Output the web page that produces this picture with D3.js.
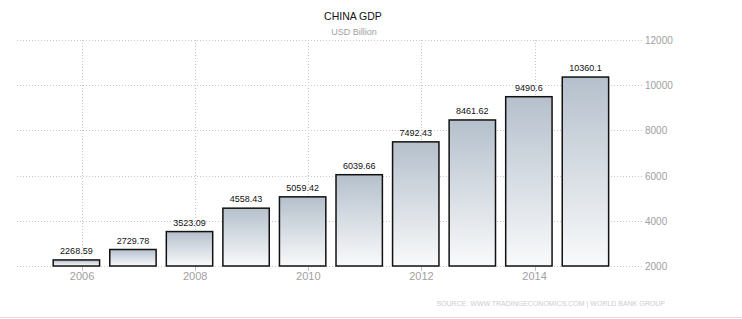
<!DOCTYPE html>
<html>
<head>
<meta charset="utf-8">
<script src="https://cdn.jsdelivr.net/npm/d3@7"></script>
<style>
  html, body { margin: 0; padding: 0; background: #fff; }
  svg { display: block; }
</style>
</head>
<body>
<svg id="chart" width="742" height="319"></svg>
<script>
const years = [2006, 2007, 2008, 2009, 2010, 2011, 2012, 2013, 2014, 2015];
const gdp = [2268.59, 2729.78, 3523.09, 4558.43, 5059.42, 6039.66, 7492.43, 8461.62, 9490.6, 10360.1];
const gdpLabels = ["2268.59", "2729.78", "3523.09", "4558.43", "5059.42", "6039.66", "7492.43", "8461.62", "9490.6", "10360.1"];
const xTicks = [2006, 2008, 2010, 2012, 2014];
const yTicks = [2000, 4000, 6000, 8000, 10000, 12000];
const title = "CHINA GDP";
const subtitle = "USD Billion";
const source = "SOURCE: WWW.TRADINGECONOMICS.COM | WORLD BANK GROUP";

const W = 742, H = 319;
const svg = d3.select("#chart");
const font = "'Liberation Sans', Arial, sans-serif";

const x = d3.scaleLinear().domain([2004.85, 2015.9]).range([17, 642]);
const y = d3.scaleLinear().domain([2000, 12000]).range([266, 40]);
const barOffset = -0.1, barHalf = 0.41;

// gradient
const defs = svg.append("defs");
const grad = defs.append("linearGradient").attr("id", "barGrad")
  .attr("x1", 0).attr("y1", 0).attr("x2", 0).attr("y2", 1);
grad.append("stop").attr("offset", "0%").attr("stop-color", "#b5c0cc");
grad.append("stop").attr("offset", "100%").attr("stop-color", "#f9fafb");

// horizontal grid
svg.append("g").selectAll("line").data(yTicks).join("line")
  .attr("x1", x.range()[0]).attr("x2", x.range()[1])
  .attr("y1", d => Math.round(y(d)) + 0.5).attr("y2", d => Math.round(y(d)) + 0.5)
  .attr("stroke", "#c8c8c8").attr("stroke-width", 1).attr("stroke-dasharray", "1,2");

// vertical grid
svg.append("g").selectAll("line").data(xTicks).join("line")
  .attr("x1", d => Math.round(x(d)) + 0.5).attr("x2", d => Math.round(x(d)) + 0.5)
  .attr("y1", y(12000)).attr("y2", y(2000))
  .attr("stroke", "#c8c8c8").attr("stroke-width", 1).attr("stroke-dasharray", "1,2");

// x ticks
svg.append("g").selectAll("line").data(xTicks).join("line")
  .attr("x1", d => Math.round(x(d)) + 0.5).attr("x2", d => Math.round(x(d)) + 0.5)
  .attr("y1", y(2000)).attr("y2", y(2000) + 5)
  .attr("stroke", "#c0c0c0").attr("stroke-width", 1);

// bars
svg.append("g").selectAll("rect").data(years).join("rect")
  .attr("x", d => x(d + barOffset - barHalf))
  .attr("width", d => x(d + barOffset + barHalf) - x(d + barOffset - barHalf))
  .attr("y", (d, i) => y(gdp[i]))
  .attr("height", (d, i) => y(2000) - y(gdp[i]))
  .attr("fill", "url(#barGrad)")
  .attr("stroke", "#111").attr("stroke-width", 1.5);

// bar labels
svg.append("g").selectAll("text").data(years).join("text")
  .attr("x", d => x(d + barOffset))
  .attr("y", (d, i) => y(gdp[i]) - 6)
  .attr("text-anchor", "middle")
  .attr("font-family", font).attr("font-size", 9).attr("fill", "#111")
  .text((d, i) => gdpLabels[i]);

// x labels
svg.append("g").selectAll("text").data(xTicks).join("text")
  .attr("x", d => x(d)).attr("y", 280)
  .attr("text-anchor", "middle")
  .attr("font-family", font).attr("font-size", 11).attr("fill", "#a0a0a0")
  .text(d => d);

// y labels
svg.append("g").selectAll("text").data(yTicks).join("text")
  .attr("x", 645).attr("y", d => y(d) + 4)
  .attr("font-family", font).attr("font-size", 10).attr("fill", "#a0a0a0")
  .text(d => d);

// titles
svg.append("text").attr("x", 353).attr("y", 20).attr("text-anchor", "middle")
  .attr("font-family", font).attr("font-size", 10.5).attr("fill", "#111")
  .text(title);
svg.append("text").attr("x", 354).attr("y", 35).attr("text-anchor", "middle")
  .attr("font-family", font).attr("font-size", 9).attr("fill", "#a0a0a0")
  .text(subtitle);

// source
svg.append("text").attr("x", 665).attr("y", 306).attr("text-anchor", "end")
  .attr("font-family", font).attr("font-size", 7).attr("fill", "#cccccc")
  .text(source);

// bottom border
svg.append("line").attr("x1", 0).attr("x2", W).attr("y1", 317.5).attr("y2", 317.5)
  .attr("stroke", "#dedede").attr("stroke-width", 1);
</script>
</body>
</html>
